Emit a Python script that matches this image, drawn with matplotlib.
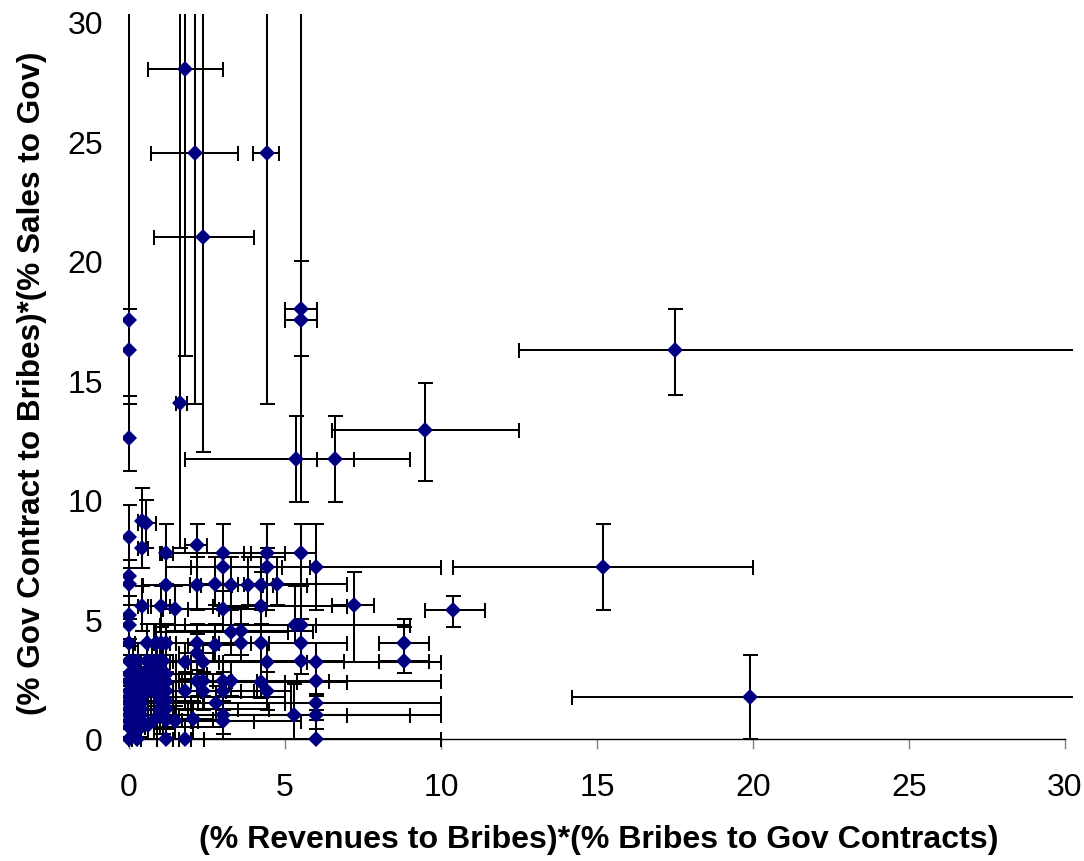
import numpy as np
import matplotlib
matplotlib.use('Agg')
import matplotlib.pyplot as plt

plt.rcParams['font.family'] = ['Liberation Sans', 'DejaVu Sans']

x_values = [
    1.78, 2.1, 2.36, 4.41, 5.5, 5.5, 1.65, 0, 0, 0,
    17.5, 9.5, 6.6, 5.35, 15.2, 10.4, 19.9, 7.2, 8.8, 8.8,
    0, .43, .56, .43, 1.2, 2.17, 3, 4.41, 5.5,
    3, 4.41, 6, 0, 0, 1.2, 2.17, 2.76, 3.26, 3.82, 4.23, 4.73,
    .43, 1.03, 1.47, 3, 4.23, 0, 0, 5.32, 5.5, 3.26, 3.59,
    0, .57, .87, 1.04, 1.2, 2.17, 2.76, 3.59, 4.23, 5.5, 2.17,
    2.36, 1.8, 4.41, 5.5, 6, 0, .14, .29, .57, .75, .9, 1, 1.1,
    2.17, 2.36, 3, 3.26, 4.23, 4.41, 1.8, 2.36, 3, 6, 2.8, 6,
    5.3, 6, 3, 3, 2.04, 1.2, 1.47, 1.2, 1.8, 0, .25, 6,
    0, 0, 0, 0, 0, 0, 0, 0, 0,
    .2, .2, .2, .2, .2, .2, .2, .2, .2,
    .4, .4, .4, .4, .4, .4, .4, .4, .4,
    1, 1, 1, 1, 1, 1.2, 1.2, 1.2, 1.2, 1.2,
    .6, .8, .6, .8, .6, .8, 1,
    .1, .1, .1, .1, .1, .1, .1, .1, .1,
    .3, .3, .3, .3, .3, .3, .3, .3, .3,
    .55, .55, .7, .7, .9, 1.1, 1.1,
]
y_values = [
    28, 24.5, 21, 24.5, 18, 17.5, 14.05, 17.5, 16.25, 12.6,
    16.25, 12.9, 11.7, 11.7, 7.2, 5.4, 1.75, 5.6, 4, 3.25,
    8.45, 9.1, 9.04, 8, 7.77, 8.1, 7.77, 7.77, 7.77,
    7.2, 7.2, 7.2, 6.8, 6.5, 6.43, 6.43, 6.5, 6.45, 6.43, 6.43, 6.5,
    5.58, 5.58, 5.43, 5.43, 5.58, 5.2, 4.75, 4.75, 4.75, 4.47, 4.53,
    4, 4, 4, 4, 4, 4, 3.93, 4, 4, 4, 3.6,
    3.24, 3.2, 3.2, 3.25, 3.2, 3.25, 3.25, 3.25, 3.25, 3.25, 3.25, 3.25, 3.25,
    2.43, 2.43, 2.43, 2.43, 2.4, 2, 2, 2, 2, 2.43, 1.5, 1.5,
    1, 1, 1, .75, .83, .8, .75, 0, 0, 0, 0, 0,
    .5, .75, 1, 1.25, 1.5, 1.75, 2, 2.4, 2.7,
    .5, .75, 1, 1.25, 1.5, 1.75, 2, 2.4, 2.7,
    .5, .75, 1, 1.25, 1.5, 1.75, 2, 2.4, 2.7,
    1.25, 1.6, 2, 2.4, 2.7, 1.25, 1.6, 2, 2.4, 2.7,
    2, 2, 2.5, 2.5, .6, .8, 1,
    .5, .75, 1, 1.25, 1.5, 1.75, 2, 2.4, 2.7,
    .5, .75, 1, 1.25, 1.5, 1.75, 2, 2.4, 2.7,
    2.25, 2.75, 2.25, 2.75, 2.75, 1, 1.4,
]
x_low = [
    .6, .7, .8, 3.96, 5, 5, 1.5, 0, 0, 0,
    12.5, 6.5, 6.03, 1.8, 10.4, 9.5, 14.2, 6.5, 8, 8,
    0, .3, .28, .3, 1.0, 1.8, 1.05, 3.7, 3.0,
    1.2, 3, 2, 0, 0, .45, .43, 1.96, 2.3, 3.0, 3.3, 3.7,
    .3, .7, 1.1, 1.9, 2.7, 0, 0, 1.0, 1.8, .8, 1.2,
    0, .2, .6, .8, .9, .6, 1.9, 2.7, 2.9, 1.5, 1.6,
    1.9, 1.3, 3.0, 1.4, 2, 0, 0, .1, .3, .5, .6, .7, .8,
    1.7, 1.6, 1.0, 2.2, 3.2, 3.6, 1.4, 1.8, 2.2, 2, 1.2, 2,
    1.6, 2, 1.0, 2.2, 1.5, .8, 1.1, .9, 1.4, 0, .1, 2,
    0, 0, 0, 0, 0, 0, 0, 0, 0,
    .1, .1, .1, .05, .1, .1, .1, .1, .1,
    .2, .2, .2, .2, .2, .2, .2, .2, .2,
    .7, .7, .7, .7, .7, .9, .9, .9, .9, .9,
    .4, .5, .4, .5, .4, .5, .7,
    .05, .05, .05, .05, .05, .05, .05, .05, .05,
    .15, .15, .15, .15, .15, .15, .15, .15, .15,
    .3, .3, .45, .45, .6, .8, .8,
]
x_high = [
    3, 3.5, 4, 4.8, 6.03, 6.03, 1.85, 0, 0, 0,
    31, 12.5, 7.2, 9, 20, 11.4, 31, 7.85, 9.6, 9.6,
    0, .56, .85, .6, 1.4, 2.5, 3.9, 5.0, 6.0,
    4.9, 5.8, 10, 0, 0, 1.96, 3.0, 3.5, 4.3, 4.6, 5.7, 7,
    .6, 1.3, 2.9, 4.4, 7, 0, 0, 9, 6, 5.1, 5.9,
    0, .9, 1.2, 1.3, 1.5, 3.9, 3.6, 4.5, 5.5, 7, 2.7,
    2.9, 2.4, 5.7, 6.9, 10, 0, .3, .5, .9, 1, 1.2, 1.3, 1.5,
    2.7, 3.3, 6.4, 4.1, 5.4, 5.2, 2.3, 3.1, 4.1, 10, 5.2, 10,
    9, 10, 9, 4, 2.7, 1.7, 2, 1.6, 2.4, 0, .4, 10,
    0, 0, 0, 0, 0, 0, 0, 0, 0,
    .3, .3, .3, .4, .3, .3, .3, .3, .3,
    3, 5.5, 9, 1.9, 5, 3, 4, 7, 2.5,
    4.5, 2.2, 3.6, 5, 3, 1.5, 1.5, 1.5, 1.5, 1.5,
    .8, 1.1, .8, 1.1, .9, 1.1, 1.4,
    .2, 4, 9, 3.5, 2.4, 5, 5, 6, .2,
    .5, .5, 7, .5, .5, .5, .5, 7, .5,
    .8, .8, 1, 1, 1.2, 1.4, 1.4,
]
y_low = [
    16, 14, 12, 14, 16, 9.9, 8, 14, 14.35, 11.2,
    14.4, 10.8, 9.9, 9.9, 5.4, 4.7, 0, 3.2, 3.25, 2.75,
    7.5, 8, 8, 7.15, 6.5, 7.2, 6.5, 6.5, 6.5,
    5.4, 5.4, 5.4, 6, 5.6, 5.6, 5.4, 5.6, 5.4, 5.6, 5.4, 5.6,
    4.5, 4.7, 4.5, 4.5, 4.5, 4.2, 3.9, 4, 4, 3.5, 3.5,
    3.2, 3.2, 3.2, 3.2, 3.2, 3.2, 3.2, 3.2, 3.2, 3.2, 2.9,
    2.4, 2.5, 2.4, 2.7, 2.4, 2.5, 2.5, 2.5, 2.5, 2.5, 2.5, 2.5, 2.5,
    1.8, 1.8, 1.8, 1.8, 1.7, 1.2, 1.2, 1.2, 1.2, 1.8, .8, 1.2,
    0, .4, .2, 0, 0, 0, 0, 0, 0, 0, 0, 0,
    0, .1, .4, .5, .8, 1, 1.2, 1.6, 2,
    0, .1, .4, .5, .8, 1, 1.2, 1.6, 2,
    0, .1, .4, .5, .8, 1, 1.2, 1.6, 2,
    .4, .9, 1.2, 1.6, 2, .4, .9, 1.2, 1.6, 2,
    1.2, 1.2, 1.6, 1.6, 0, 0, .2,
    0, .1, .4, .5, .8, 1, 1.2, 1.6, 2,
    0, .1, .4, .5, .8, 1, 1.2, 1.6, 2,
    1.6, 2, 1.6, 2, 2, .2, .7,
]
y_high = [
    31, 31, 31, 31, 20, 31, 31, 18, 31, 14,
    18, 14.9, 13.5, 13.5, 9, 6, 3.5, 7, 5, 4.7,
    9.8, 10.5, 10, 9.1, 9, 9, 9, 9, 9,
    9, 8, 9, 7.5, 7.15, 7.6, 7.6, 7.6, 7.6, 7.6, 7.6, 7.6,
    6.4, 6.4, 6.4, 6.2, 7, 6, 5.6, 6.4, 6.4, 5.5, 5.5,
    5, 4.8, 4.8, 4.8, 4.8, 4.8, 4.8, 4.8, 4.8, 5, 4.4,
    4, 4, 4, 4, 4, 4, 4, 4, 4, 4, 4, 4, 4,
    3.2, 3.2, 3.2, 3.2, 3.2, 2.8, 2.8, 2.8, 2.8, 3.2, 2.2, 1.9,
    2.3, 1.5, 1.6, 1.5, 1.6, 1.6, 1.4, .8, .8, .8, .8, .8,
    1, 1.2, 1.6, 2, 2.2, 2.5, 2.8, 3.2, 3.5,
    1, 1.2, 1.6, 2, 2.2, 2.5, 2.8, 3.2, 3.5,
    1, 1.2, 1.6, 2, 2.2, 2.5, 2.8, 3.2, 3.5,
    2, 2.3, 2.8, 3.2, 3.5, 2, 2.3, 2.8, 3.2, 3.5,
    2.8, 2.8, 3.2, 3.2, 1.2, 1.4, 1.6,
    1, 1.2, 1.6, 2, 2.2, 2.5, 2.8, 3.2, 3.5,
    1, 1.2, 1.6, 2, 2.2, 2.5, 2.8, 3.2, 3.5,
    3, 3.5, 3, 3.5, 3.5, 1.6, 2,
]
tick_labels = ['0', '5', '10', '15', '20', '25', '30']
tick_values = [0, 5, 10, 15, 20, 25, 30]
x_label = '(% Revenues to Bribes)*(% Bribes to Gov Contracts)'
y_label = '(% Gov Contract to Bribes)*(% Sales to Gov)'

W, H = 1084, 862
fig = plt.figure(figsize=(W / 100, H / 100), dpi=100, facecolor='white')

# pixel scale of the plotting area
px_x0, px_x30, px_y0, px_y30 = 129, 1065, 740, 22.5
left, right, top, bottom = 123, 1073, 15, 760
ax = fig.add_axes([left / W, 1 - bottom / H, (right - left) / W, (bottom - top) / H])
sx = (px_x30 - px_x0) / 30
sy = (px_y0 - px_y30) / 30
ax.set_xlim((left - px_x0) / sx, (right - px_x0) / sx)
ax.set_ylim((px_y0 - bottom) / sy, (px_y0 - top) / sy)
ax.patch.set_alpha(0)

x = np.array(x_values)
y = np.array(y_values)
xerr = [np.maximum(x - np.array(x_low), 0), np.maximum(np.array(x_high) - x, 0)]
yerr = [np.maximum(y - np.array(y_low), 0), np.maximum(np.array(y_high) - y, 0)]

ax.errorbar(x, y, xerr=xerr, yerr=yerr, fmt='none', ecolor='black',
            elinewidth=1.45, capsize=5.4, capthick=1.45, zorder=2)
ax.plot(x, y, linestyle='none', marker='D', markersize=8.2, color='#000080',
        markeredgewidth=0, zorder=3)

for s in ['top', 'right', 'left']:
    ax.spines[s].set_visible(False)
ax.spines['bottom'].set_position(('data', 0))
ax.spines['bottom'].set_bounds(0, 30)
ax.spines['bottom'].set_linewidth(1.0)
ax.set_xticks(tick_values, tick_labels)
ax.set_yticks(tick_values, tick_labels)
ax.tick_params(axis='x', direction='out', length=7.5, width=1.0, color='#808080',
               labelsize=23, pad=16.5)
ax.tick_params(axis='y', length=0, labelsize=23, pad=14.5)

fig.text(599 / W, 1 - 840 / H, x_label, fontsize=23.1, fontweight='bold', ha='center', va='center')
fig.text(32 / W, 1 - 383 / H, y_label, fontsize=22.7, fontweight='bold', rotation=90, ha='center', va='center')

fig.savefig('out.png', dpi=100)
